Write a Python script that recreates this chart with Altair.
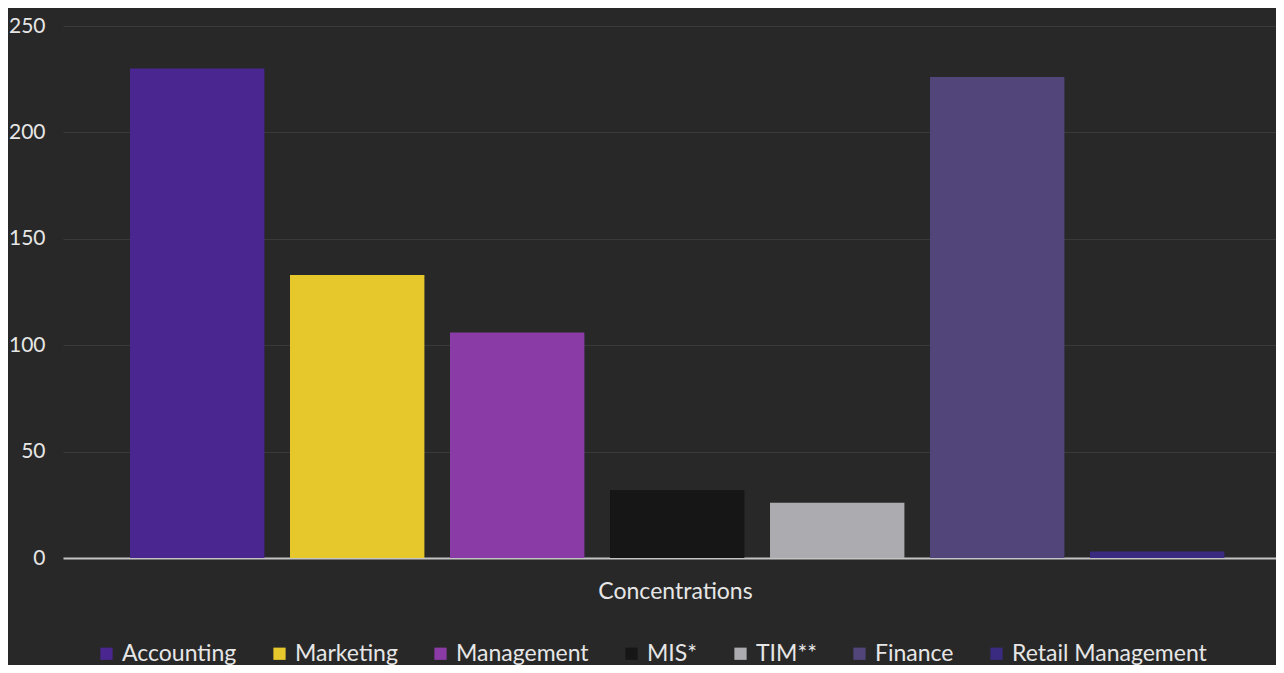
import altair as alt
import pandas as pd

categories = ["Accounting", "Marketing", "Management", "MIS*", "TIM**", "Finance", "Retail Management"]
values = [230, 133, 106, 32, 26, 226, 3]
colors = ["#4a2690", "#e6c82c", "#8a3ba6", "#161616", "#acacb0", "#52457a", "#3a2a80"]
y_ticks = [0, 50, 100, 150, 200, 250]

df = pd.DataFrame({"Concentration": categories, "Count": values})

FONT = "Lato"
TXT = "#e6e6e6"

chart = alt.Chart(df).mark_bar().encode(
    x=alt.X("Concentration:N", sort=categories,
            scale=alt.Scale(paddingInner=0.16, paddingOuter=0.3706, align=0.565),
            axis=alt.Axis(title="Concentrations", labels=False, ticks=False,
                          domainColor="#c4c4c4", domainWidth=2,
                          titlePadding=22, titleFontSize=23, titleFont=FONT,
                          titleFontWeight="normal", titleColor=TXT, titleX=612)),
    y=alt.Y("Count:Q", scale=alt.Scale(domain=[0, 250], nice=False),
            axis=alt.Axis(title=None, values=y_ticks, domain=False, ticks=False,
                          labelPadding=18, labelFontSize=21, labelFont=FONT,
                          labelColor=TXT, gridColor="#3a3a3a", gridWidth=1)),
    color=alt.Color("Concentration:N", sort=categories,
                    scale=alt.Scale(domain=categories, range=colors),
                    legend=alt.Legend(title=None, orient="none", legendX=32, legendY=616,
                                      direction="horizontal", columns=7, columnPadding=31,
                                      symbolType="square", symbolSize=150,
                                      symbolStrokeWidth=0, labelFontSize=23, labelLimit=400,
                                      labelFont=FONT, labelColor=TXT, labelOffset=4)),
).properties(
    width=1213, height=532,
    background="#282828",
    padding={"left": 55, "top": 18, "right": 0, "bottom": 107},
    autosize=alt.AutoSizeParams(type="none"),
).configure_view(stroke=None)

chart.save("out.html", embed_options={"renderer": "svg", "actions": False})
